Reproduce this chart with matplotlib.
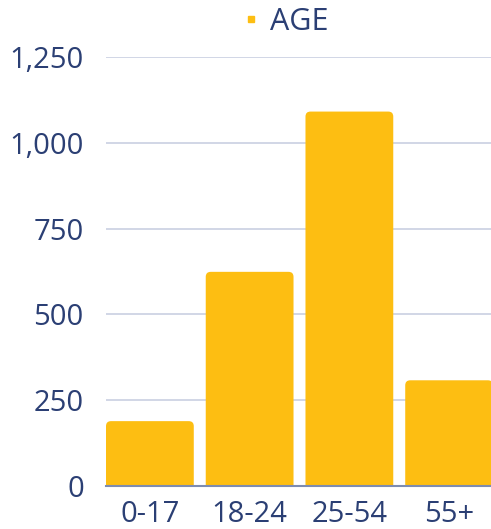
import matplotlib
matplotlib.use("Agg")
import matplotlib.pyplot as plt
from matplotlib.patches import FancyBboxPatch
from matplotlib.lines import Line2D

# data
categories = ["0-17", "18-24", "25-54", "55+"]
values = [189, 624, 1091, 308]
y_ticks = [0, 250, 500, 750, 1000, 1250]
y_tick_labels = ["0", "250", "500", "750", "1,000", "1,250"]

bar_color = "#FDBE12"
text_color = "#2B3F74"
grid_color = "#C9D0E2"
base_color = "#7D8CB0"

plt.rcParams["font.family"] = ["Open Sans", "DejaVu Sans"]

W, H = 491, 529
fig = plt.figure(figsize=(W / 100, H / 100), dpi=100)

# axes box in pixels: left 106, baseline 486, top 57, right just past the edge
left, right, top, bottom = 106, 493, 57, 486
ax = fig.add_axes([left / W, (H - bottom) / H, (right - left) / W, (bottom - top) / H])

bar_w = 0.88
ax.set_xlim(0, len(categories) - 1 + bar_w)
ax.set_ylim(0, 1250)

# rounded top corners: radius in pixels converted to data units
px_x = (len(categories) - 1 + bar_w) / (right - left)
px_y = 1250 / (bottom - top)
r = 5
for i, v in enumerate(values):
    p = FancyBboxPatch((i, -r * px_y), bar_w, v + r * px_y,
                       boxstyle="round,pad=0,rounding_size=%f" % (r * px_x),
                       mutation_aspect=px_y / px_x,
                       facecolor=bar_color, edgecolor="none", zorder=3)
    ax.add_patch(p)

ax.set_yticks(y_ticks)
ax.set_yticklabels(y_tick_labels)
ax.set_xticks([i + bar_w / 2 for i in range(len(categories))])
ax.set_xticklabels(categories)
ax.tick_params(axis="y", length=0, pad=16, labelsize=21, labelcolor=text_color)
ax.tick_params(axis="x", length=0, pad=10, labelsize=21, labelcolor=text_color)

for t in y_ticks[1:]:
    ax.axhline(t, color=grid_color, lw=1.2, zorder=1)
for s in ["left", "right", "top"]:
    ax.spines[s].set_visible(False)
ax.spines["bottom"].set_color(base_color)
ax.spines["bottom"].set_linewidth(1.5)
ax.spines["bottom"].set_zorder(4)

handle = Line2D([], [], marker="s", linestyle="none", color=bar_color, markersize=5)
fig.legend([handle], ["AGE"], loc="center", bbox_to_anchor=(282 / W, 1 - 22 / H),
           frameon=False, fontsize=22, labelcolor=text_color,
           handletextpad=0.1, handlelength=1.0, borderpad=0)

fig.savefig("out.png", dpi=100)
